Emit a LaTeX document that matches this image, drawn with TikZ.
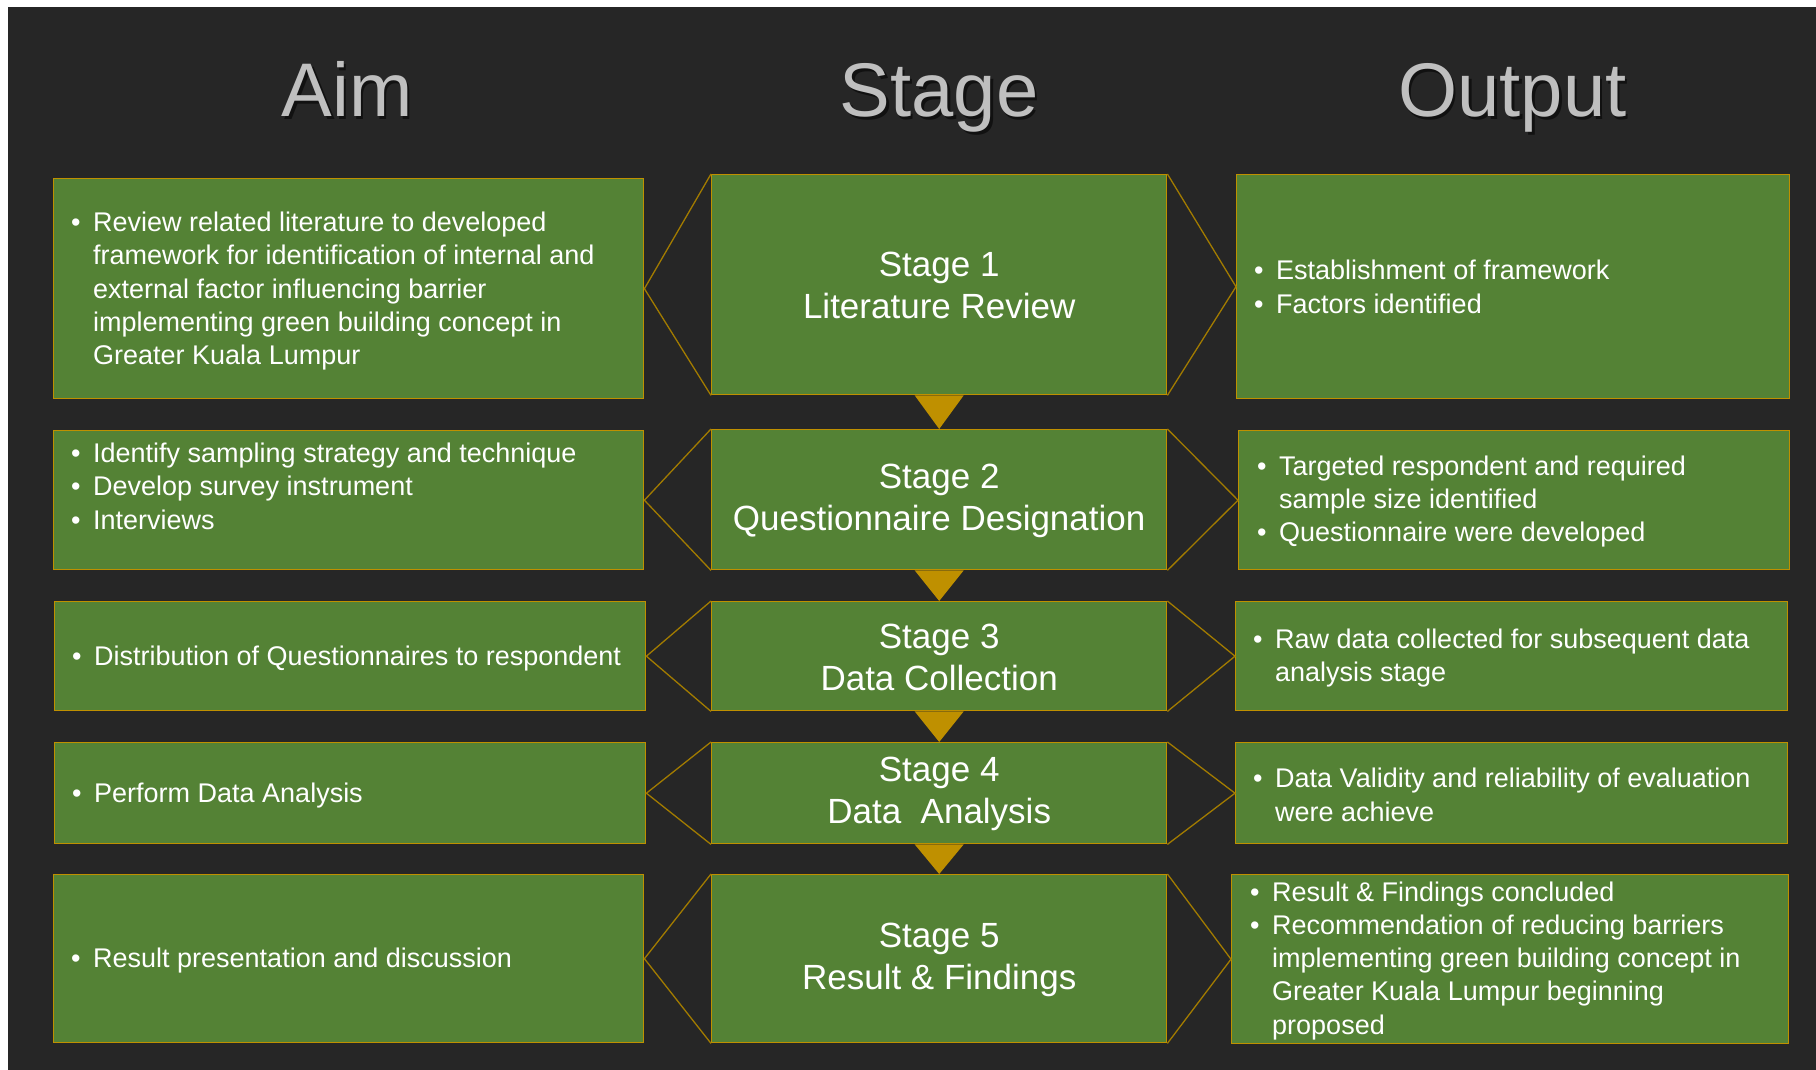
\documentclass[tikz,border=0pt]{standalone}
\usepackage{fontspec}
\setmainfont{Liberation Sans}
\definecolor{bg}{HTML}{262626}
\definecolor{leaf}{HTML}{548235}
\definecolor{gold}{HTML}{BF9000}
\definecolor{darkgold}{HTML}{A27B00}
\definecolor{headgray}{HTML}{BFBFBF}
% bullet line and its continuation lines
\newcommand\bul[1]{\makebox[22pt][l]{\textbullet}#1}
\newcommand\cont[1]{\hspace*{22pt}#1}

\begin{document}
\begin{tikzpicture}[x=1pt,y=-1pt,
  panel/.style={draw=gold, line width=1.4pt, fill=leaf, rectangle, inner sep=0pt, anchor=north west},
  body/.style={text=white, font=\fontsize{27}{33.3}\selectfont, align=left, inner sep=0pt, anchor=west},
  stagetext/.style={text=white, font=\fontsize{35}{42}\selectfont, align=center, inner sep=0pt},
  head/.style={text=headgray, font=\fontsize{76}{80}\selectfont, anchor=base, inner sep=0pt},
  headshade/.style={head, text=black, opacity=0.55},
  chev/.style={draw=darkgold, line width=1.3pt},
  drop/.style={fill=gold}]

% page and dark slide
\useasboundingbox (0,0) rectangle (1816,1070);
\fill[white] (0,0) rectangle (1816,1070);
\fill[bg] (8,7) rectangle (1816,1070);

% column headings
\node[headshade] (hAimS) at (349.5,119.5) {Aim};
\node[head] (hAim) at (347,117) {Aim};
\node[headshade] (hStageS) at (941.5,119.5) {Stage};
\node[head] (hStage) at (939,117) {Stage};
\node[headshade] (hOutS) at (1515,119.5) {Output};
\node[head] (hOut) at (1512.5,117) {Output};

% aim column
\node[panel, minimum width=590pt, minimum height=220pt] (a1) at (53,178) {};
\node[panel, minimum width=590pt, minimum height=139pt] (a2) at (53,430) {};
\node[panel, minimum width=591pt, minimum height=109pt] (a3) at (54,601) {};
\node[panel, minimum width=591pt, minimum height=101pt] (a4) at (54,742) {};
\node[panel, minimum width=590pt, minimum height=168pt] (a5) at (53,874) {};

% stage column
\node[panel, minimum width=455pt, minimum height=220pt] (s1) at (711,174) {};
\node[panel, minimum width=455pt, minimum height=140pt] (s2) at (711,429) {};
\node[panel, minimum width=455pt, minimum height=109pt] (s3) at (711,601) {};
\node[panel, minimum width=455pt, minimum height=101pt] (s4) at (711,742) {};
\node[panel, minimum width=455pt, minimum height=168pt] (s5) at (711,874) {};

% output column
\node[panel, minimum width=553pt, minimum height=224pt] (o1) at (1236,174) {};
\node[panel, minimum width=551pt, minimum height=139pt] (o2) at (1238,430) {};
\node[panel, minimum width=552pt, minimum height=109pt] (o3) at (1235,601) {};
\node[panel, minimum width=552pt, minimum height=101pt] (o4) at (1235,742) {};
\node[panel, minimum width=557pt, minimum height=169pt] (o5) at (1231,874) {};

% chevrons joining each stage to its aim and output
\foreach \r in {1,...,5}{
  \draw[chev] (s\r.north west) -- (a\r.east) -- (s\r.south west);
  \draw[chev] (s\r.north east) -- (o\r.west) -- (s\r.south east);
}

% downward pointers between stages
\foreach \r/\n in {1/2,2/3,3/4,4/5}{
  \fill[drop] ([xshift=-24.5pt]s\r.south) -- ([xshift=24.5pt]s\r.south) -- (s\n.north) -- cycle;
}

% stage labels
\node[stagetext] (s1t) at ([yshift=-1pt]s1.center) {Stage 1\\Literature Review};
\node[stagetext] (s2t) at ([yshift=-1pt]s2.center) {Stage 2\\Questionnaire Designation};
\node[stagetext] (s3t) at ([yshift=-1pt]s3.center) {Stage 3\\Data Collection};
\node[stagetext] (s4t) at ([yshift=-1pt]s4.center) {Stage 4\\Data\ \ Analysis};
\node[stagetext] (s5t) at ([yshift=-1pt]s5.center) {Stage 5\\Result \& Findings};

% aim texts
\node[body] (a1t) at ([xshift=18pt,yshift=-2.5pt]a1.west) {\bul{Review related literature to developed}\\
  \cont{framework for identification of internal and}\\
  \cont{external factor influencing barrier}\\
  \cont{implementing green building concept in}\\
  \cont{Greater Kuala Lumpur}};
\node[body] (a2t) at ([xshift=18pt,yshift=14pt]a2.west) {\bul{Identify sampling strategy and technique}\\
  \bul{Develop survey instrument}\\
  \bul{Interviews}};
\node[body] (a3t) at ([xshift=18pt,yshift=-2pt]a3.west) {\bul{Distribution of Questionnaires to respondent}};
\node[body] (a4t) at ([xshift=18pt,yshift=-2pt]a4.west) {\bul{Perform Data Analysis}};
\node[body] (a5t) at ([xshift=18pt,yshift=-1.5pt]a5.west) {\bul{Result presentation and discussion}};

% output texts
\node[body] (o1t) at ([xshift=18pt,yshift=0pt]o1.west) {\bul{Establishment of framework}\\
  \bul{Factors identified}};
\node[body] (o2t) at ([xshift=19pt,yshift=-1.5pt]o2.west) {\bul{Targeted respondent and required}\\
  \cont{sample size identified}\\
  \bul{Questionnaire were developed}};
\node[body] (o3t) at ([xshift=18pt,yshift=-1.5pt]o3.west) {\bul{Raw data collected for subsequent data}\\
  \cont{analysis stage}};
\node[body] (o4t) at ([xshift=18pt,yshift=-1.5pt]o4.west) {\bul{Data Validity and reliability of evaluation}\\
  \cont{were achieve}};
\node[body] (o5t) at ([xshift=19pt,yshift=-1.5pt]o5.west) {\bul{Result \& Findings concluded}\\
  \bul{Recommendation of reducing barriers}\\
  \cont{implementing green building concept in}\\
  \cont{Greater Kuala Lumpur beginning}\\
  \cont{proposed}};
\end{tikzpicture}
\end{document}
